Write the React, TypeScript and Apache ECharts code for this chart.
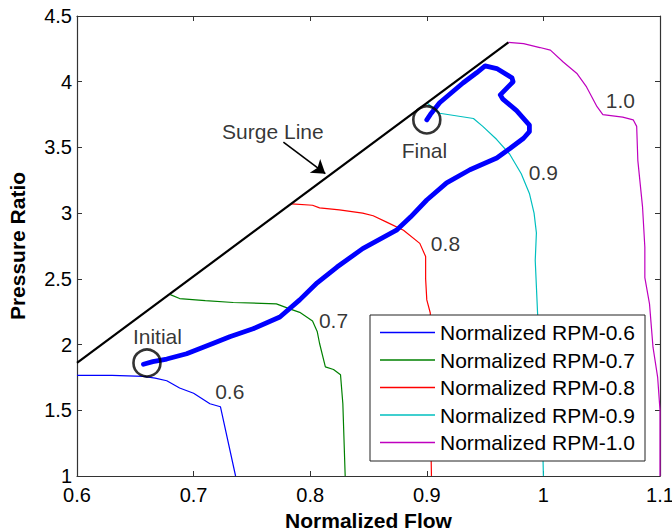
import React, { useEffect, useRef } from "react";
import * as echarts from "echarts";

const FONT = "'Liberation Sans', Arial, Helvetica, sans-serif";

const rpm06: number[][] = [
  [0.6, 1.765], [0.63, 1.765], [0.657, 1.758], [0.667, 1.745], [0.677, 1.725],
  [0.688, 1.67], [0.7, 1.63], [0.714, 1.55], [0.723, 1.527], [0.736, 1.0],
];
const rpm07: number[][] = [
  [0.68, 2.38], [0.688, 2.35], [0.71, 2.335], [0.734, 2.32], [0.771, 2.31],
  [0.783, 2.27], [0.791, 2.245], [0.802, 2.18], [0.806, 2.1], [0.808, 2.01],
  [0.813, 1.83], [0.82, 1.81], [0.826, 1.77], [0.828, 1.55], [0.83, 1.0],
];
const rpm08: number[][] = [
  [0.784, 3.07], [0.802, 3.06], [0.808, 3.04], [0.825, 3.025], [0.845, 3.0],
  [0.854, 2.98], [0.866, 2.93], [0.88, 2.87], [0.894, 2.77], [0.899, 2.67],
  [0.899, 2.5], [0.9, 2.34], [0.903, 2.24], [0.903, 1.5], [0.904, 1.0],
];
const rpm09: number[][] = [
  [0.9, 3.84], [0.911, 3.76], [0.94, 3.72], [0.948, 3.66], [0.96, 3.56],
  [0.971, 3.45], [0.981, 3.3], [0.988, 3.15], [0.992, 3.0], [0.994, 2.85],
  [0.993, 2.64], [0.995, 2.24], [0.998, 1.8], [1.0, 1.0],
];
const rpm10: number[][] = [
  [0.97, 4.3], [0.983, 4.29], [0.997, 4.26], [1.006, 4.24], [1.017, 4.15],
  [1.029, 4.06], [1.037, 3.96], [1.046, 3.81], [1.051, 3.75], [1.068, 3.73],
  [1.077, 3.71], [1.08, 3.66], [1.081, 3.4], [1.085, 3.05], [1.087, 2.74],
  [1.087, 2.51], [1.091, 2.31], [1.094, 1.98], [1.098, 1.75], [1.1, 1.5], [1.1, 1.0],
];
const surgeLine: number[][] = [[0.6, 1.86], [0.97, 4.3]];
const trajectory: number[][] = [
  [0.657, 1.85], [0.665, 1.87], [0.677, 1.89], [0.694, 1.93], [0.717, 2.01],
  [0.731, 2.06], [0.751, 2.12], [0.774, 2.21], [0.791, 2.34], [0.806, 2.47],
  [0.823, 2.59], [0.845, 2.73], [0.874, 2.87], [0.886, 2.97], [0.9, 3.1],
  [0.917, 3.23], [0.937, 3.33], [0.96, 3.42], [0.971, 3.49], [0.983, 3.57],
  [0.988, 3.62], [0.988, 3.67], [0.977, 3.78], [0.965, 3.87], [0.963, 3.9],
  [0.974, 4.0], [0.973, 4.03], [0.96, 4.1], [0.95, 4.12], [0.943, 4.07],
  [0.931, 3.99], [0.911, 3.84], [0.903, 3.75], [0.9, 3.71],
];
const markerCircles: number[][] = [[0.66, 1.86], [0.9, 3.71]];
const annotations: { name: string; value: number[] }[] = [
  { name: "0.6", value: [0.731, 1.64] },
  { name: "0.7", value: [0.82, 2.186] },
  { name: "0.8", value: [0.916, 2.77] },
  { name: "0.9", value: [1.0, 3.31] },
  { name: "1.0", value: [1.066, 3.86] },
  { name: "Initial", value: [0.669, 2.06] },
  { name: "Final", value: [0.898, 3.48] },
  { name: "Surge Line", value: [0.768, 3.62] },
];
const arrowFrom: number[] = [0.777, 3.54];
const arrowTo: number[] = [0.813, 3.3];

const seriesNames = [
  "Normalized RPM-0.6",
  "Normalized RPM-0.7",
  "Normalized RPM-0.8",
  "Normalized RPM-0.9",
  "Normalized RPM-1.0",
];
const seriesData = [rpm06, rpm07, rpm08, rpm09, rpm10];
const seriesColors = ["#0000ff", "#008000", "#ff0000", "#00bfbf", "#bf00bf"];

export default function App() {
  const ref = useRef<HTMLDivElement>(null);
  useEffect(() => {
    document.body.style.margin = "0";
    const chart = echarts.init(ref.current!, null, { renderer: "svg" });
    const axisColor = "#333";
    const fmt = (v: number) => String(Number(v.toFixed(2)));
    const rpmSeries = seriesNames.map((name, i) => ({
      name,
      type: "line",
      data: seriesData[i],
      showSymbol: false,
      symbol: "none",
      color: seriesColors[i],
      lineStyle: { width: 1.2, color: seriesColors[i] },
      z: 2,
    }));
    chart.setOption({
      animation: false,
      textStyle: { fontFamily: FONT },
      grid: { left: 77, right: 12, top: 16, bottom: 55, containLabel: false, outerBoundsMode: "none" },
      xAxis: [
        {
          type: "value", min: 0.6, max: 1.1, interval: 0.1,
          name: "Normalized Flow", nameLocation: "middle", nameGap: 31,
          nameTextStyle: { fontSize: 21, fontWeight: "bold", color: "#000", fontFamily: FONT },
          axisLine: { show: true, lineStyle: { color: axisColor, width: 1.2 } },
          axisTick: { show: true, inside: true, length: 5, lineStyle: { color: axisColor } },
          axisLabel: { fontSize: 20, color: "#000", margin: 9, formatter: fmt, fontFamily: FONT },
          splitLine: { show: false },
        },
        {
          type: "value", min: 0.6, max: 1.1, interval: 0.1, position: "top",
          axisLine: { show: true, lineStyle: { color: axisColor, width: 1.2 } },
          axisTick: { show: true, inside: true, length: 5, lineStyle: { color: axisColor } },
          axisLabel: { show: false },
          splitLine: { show: false },
        },
      ],
      yAxis: [
        {
          type: "value", min: 1, max: 4.5, interval: 0.5,
          name: "Pressure Ratio", nameLocation: "middle", nameGap: 49,
          nameTextStyle: { fontSize: 21, fontWeight: "bold", color: "#000", fontFamily: FONT },
          axisLine: { show: true, lineStyle: { color: axisColor, width: 1.2 } },
          axisTick: { show: true, inside: true, length: 5, lineStyle: { color: axisColor } },
          axisLabel: { fontSize: 20, color: "#000", margin: 5, formatter: fmt, fontFamily: FONT },
          splitLine: { show: false },
        },
        {
          type: "value", min: 1, max: 4.5, interval: 0.5, position: "right",
          axisLine: { show: true, lineStyle: { color: axisColor, width: 1.2 } },
          axisTick: { show: true, inside: true, length: 5, lineStyle: { color: axisColor } },
          axisLabel: { show: false },
          splitLine: { show: false },
        },
      ],
      legend: {
        data: seriesNames,
        orient: "vertical",
        left: 370,
        top: 315,
        backgroundColor: "#fff",
        borderColor: "#222",
        borderWidth: 1,
        padding: [7, 9, 8, 10],
        icon: "rect",
        itemWidth: 55,
        itemHeight: 1.6,
        itemGap: 6.5,
        textStyle: {
          fontSize: 21, color: "#000", fontFamily: FONT, lineHeight: 21,
          width: 196, overflow: "none",
        },
        selectedMode: false,
      },
      series: [
        ...rpmSeries,
        {
          name: "Surge Line",
          type: "line",
          data: surgeLine,
          showSymbol: false,
          symbol: "none",
          lineStyle: { width: 2.2, color: "#000" },
          z: 3,
        },
        {
          name: "Operating Trajectory",
          type: "line",
          data: trajectory,
          showSymbol: false,
          symbol: "none",
          lineStyle: { width: 4.8, color: "#0000ff", cap: "round", join: "round" },
          z: 3,
        },
        {
          name: "Markers",
          type: "scatter",
          data: markerCircles,
          symbol: "circle",
          symbolSize: 27,
          itemStyle: { color: "rgba(0,0,0,0)", borderColor: "#000", borderWidth: 2.6 },
          z: 4,
        },
        {
          name: "Annotations",
          type: "scatter",
          data: annotations,
          symbolSize: 0,
          itemStyle: { color: "rgba(0,0,0,0)" },
          label: {
            show: true,
            position: "inside",
            formatter: (p: any) => p.name,
            fontSize: 21,
            color: "#000",
            fontFamily: FONT,
          },
          markLine: {
            silent: true,
            symbol: ["none", "arrow"],
            symbolSize: 13,
            label: { show: false },
            lineStyle: { color: "#000", width: 1.6, type: "solid" },
            data: [[{ coord: arrowFrom }, { coord: arrowTo }]],
          },
          z: 5,
        },
      ],
    });
    return () => chart.dispose();
  }, []);
  return (
    <div
      ref={ref}
      style={{ position: "fixed", left: 0, top: 0, width: 672, height: 531, background: "#fff" }}
    />
  );
}
